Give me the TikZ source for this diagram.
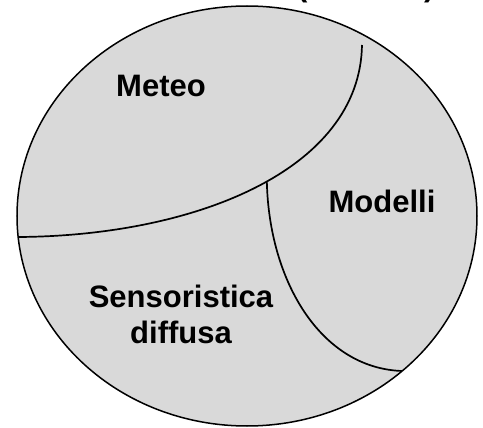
\documentclass[tikz,border=0pt]{standalone}
\usepackage{fontspec}
\setmainfont{Liberation Sans}
\begin{document}
\begin{tikzpicture}[x=1pt,y=-1pt,
  region/.style={draw=black,line width=1.5pt,fill=black!15},
  border/.style={draw=black,line width=1.7pt},
  label/.style={font=\fontsize{31}{36}\selectfont\bfseries,align=center,inner sep=0pt},
  paren/.style={font=\fontsize{31}{36}\selectfont\bfseries,inner sep=0pt,anchor=base west}]
  \useasboundingbox (0,0) rectangle (483,428);
  \clip (0,0) rectangle (483,428);

  % heading above the picture, only the lower ends of its brackets fall inside
  \node[paren] (lp) at (297,-3) {(};
  \node[paren] (rp) at (424,-3) {)};

  % the whole domain
  \path[region] (247,216) ellipse [x radius=230, y radius=210];

  % end points of the dividing lines
  \coordinate (mL) at (18,237);
  \coordinate (mE) at (362,45);
  \coordinate (mB) at (402,371);

  % boundary between Meteo and the rest
  \draw[border] (mL) .. controls (195,236) and (360,170) .. (mE)
    coordinate[pos=0.53] (j);
  % boundary between Sensoristica diffusa and Modelli
  \draw[border] (j) .. controls (269,280) and (320,368) .. (mB);

  \node[label,anchor=base] (meteo) at (161,97) {Meteo};
  \node[label,anchor=base] (modelli) at (382,213) {Modelli};
  \node[label,anchor=base] (sens) at (181,343) {Sensoristica\\diffusa};
\end{tikzpicture}
\end{document}
